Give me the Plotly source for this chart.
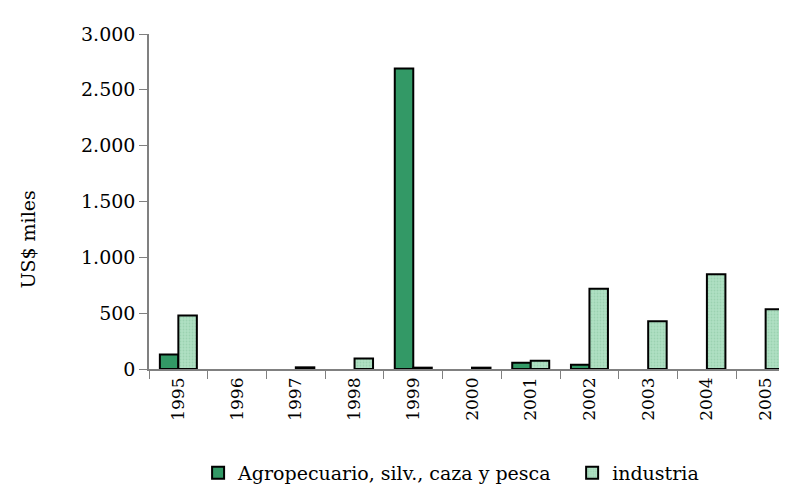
import plotly.graph_objects as go

years = ["1995", "1996", "1997", "1998", "1999", "2000", "2001", "2002", "2003", "2004", "2005"]
agro = [130, None, None, None, 2690, None, 55, 38, None, None, None]
industria = [480, None, 15, 95, 12, 12, 75, 718, 428, 848, 535]
ytick_vals = [0, 500, 1000, 1500, 2000, 2500, 3000]
ytick_text = ["0", "500", "1.000", "1.500", "2.000", "2.500", "3.000"]

FONT = "DejaVu Serif"

fig = go.Figure()
fig.add_trace(go.Bar(
    x=years, y=agro, name="Agropecuario, silv., caza y pesca", legend="legend",
    marker=dict(color="#339966", line=dict(color="#000000", width=2)),
))
fig.add_trace(go.Bar(
    x=years, y=industria, name="industria", legend="legend2",
    marker=dict(color="#a8dcbc", line=dict(color="#000000", width=2),
                pattern=dict(shape=".", fgcolor="#86c49f", bgcolor="#b0e0c3", size=3, solidity=0.3)),
))

legend_common = dict(orientation="h", xanchor="left", y=-0.31, yanchor="middle",
                     font=dict(family=FONT, size=19), itemwidth=30,
                     bgcolor="rgba(0,0,0,0)")

fig.update_layout(
    width=787, height=484,
    margin=dict(l=141, r=0, t=26, b=122),
    paper_bgcolor="white", plot_bgcolor="white",
    barmode="group", bargap=0.37, bargroupgap=0,
    font=dict(family=FONT, size=16, color="#000000"),
    showlegend=True,
    legend=dict(x=0.076, **legend_common),
    legend2=dict(x=0.655, **legend_common),
    xaxis=dict(
        type="category", tickangle=-90, tickson="boundaries",
        ticks="outside", ticklen=8, tickcolor="#808080",
        showline=True, linecolor="#808080", linewidth=1.5,
        showgrid=False, tickfont=dict(family=FONT, size=17),
    ),
    yaxis=dict(
        range=[0, 3000], tickvals=ytick_vals, ticktext=ytick_text,
        ticks="outside", ticklen=8, tickcolor="#808080",
        showline=True, linecolor="#808080", linewidth=1.5,
        showgrid=False, zeroline=False, tickfont=dict(family=FONT, size=19),
    ),
    annotations=[dict(
        text="US$ miles", xref="paper", yref="paper", x=-0.187, y=0.387,
        xanchor="center", yanchor="middle", textangle=-90, showarrow=False,
        font=dict(family=FONT, size=19),
    )],
)

fig.write_html("out.html")
